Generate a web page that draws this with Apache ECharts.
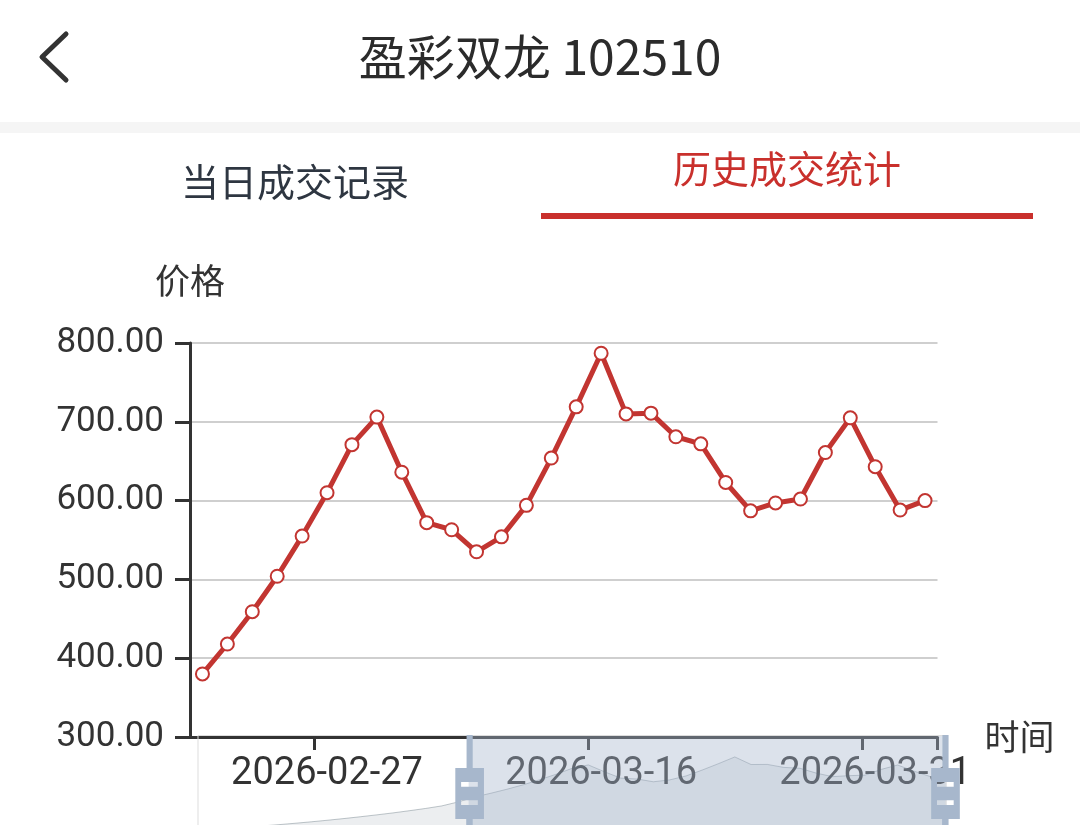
<!DOCTYPE html>
<html>
<head>
<meta charset="utf-8">
<script src="https://cdn.jsdelivr.net/npm/echarts@6/dist/echarts.min.js"></script>
<style>
html,body{margin:0;padding:0;background:#fff;}
#chart{width:1080px;height:825px;}
</style>
</head>
<body>
<div id="chart"></div>
<script>
// ---- data ----
const pageTitle = '盈彩双龙 102510';
const tabLabels = ['当日成交记录', '历史成交统计'];
const yAxisName = '价格';
const xAxisName = '时间';

// trading dates (full history, the slider window shows the last 30)
const dates = [
  '2026-01-28','2026-01-29','2026-01-30','2026-02-02','2026-02-03','2026-02-04','2026-02-05','2026-02-06',
  '2026-02-09','2026-02-10','2026-02-11','2026-02-12','2026-02-13','2026-02-16','2026-02-17','2026-02-18',
  '2026-02-19','2026-02-20','2026-02-23','2026-02-24','2026-02-25','2026-02-26','2026-02-27','2026-03-02',
  '2026-03-03','2026-03-04','2026-03-05','2026-03-06','2026-03-09','2026-03-10','2026-03-11','2026-03-12',
  '2026-03-13','2026-03-16','2026-03-17','2026-03-18','2026-03-19','2026-03-20','2026-03-23','2026-03-24',
  '2026-03-25','2026-03-26','2026-03-27','2026-03-30','2026-03-31','2026-04-01','2026-04-02'
];
// earlier prices (only visible as the slider's shadow)
const earlyPrices = [45, 54, 64, 75, 87, 100, 114, 129, 145, 162, 180, 199, 219, 241, 264, 290, 330];
// prices shown in the main plot
const shownPrices = [380, 418, 459, 504, 555, 610, 671, 706, 636, 572, 563, 535, 554, 594, 654,
                     719, 787, 710, 711, 681, 672, 623, 587, 597, 602, 661, 705, 643, 588, 600];
const prices = earlyPrices.concat(shownPrices);

const yMin = 300, yMax = 800, yStep = 100;
const windowStart = 36.2, windowEnd = 100;

// ---- chart ----
const chart = echarts.init(document.getElementById('chart'));
const CJK = '"Noto Sans CJK SC", sans-serif';
const NUM = 'Roboto, "Noto Sans CJK SC", sans-serif';
const RED = '#c9302c';

const option = {
  animation: false,
  backgroundColor: '#fff',
  textStyle: { fontFamily: NUM },
  graphic: [
    { type: 'rect', shape: { x: 0, y: 122, width: 1080, height: 11 }, style: { fill: '#f5f5f5' } },
    { type: 'polyline', shape: { points: [[66, 34], [42, 57], [66, 80]] },
      style: { stroke: '#333', lineWidth: 5, fill: null, lineCap: 'round', lineJoin: 'round' } },
    { type: 'text', x: 540, y: 57,
      style: { text: pageTitle, fontSize: 48, fontFamily: CJK, fill: '#2b2b2b', align: 'center', verticalAlign: 'middle' } },
    { type: 'text', x: 295, y: 182,
      style: { text: tabLabels[0], fontSize: 38, fontFamily: CJK, fill: '#2e3641', align: 'center', verticalAlign: 'middle' } },
    { type: 'text', x: 787, y: 169,
      style: { text: tabLabels[1], fontSize: 38, fontFamily: CJK, fill: RED, align: 'center', verticalAlign: 'middle' } },
    { type: 'rect', shape: { x: 541, y: 213, width: 492, height: 6 }, style: { fill: RED } }
  ],
  grid: { left: 190, right: 142.5, top: 343, bottom: 88 },
  xAxis: {
    type: 'category',
    data: dates,
    name: xAxisName,
    nameLocation: 'end',
    nameGap: 47,
    nameTextStyle: { fontSize: 35, color: '#333', fontFamily: CJK },
    axisLine: { lineStyle: { color: '#333', width: 3 } },
    axisTick: { show: true, interval: 10, length: 13, lineStyle: { color: '#333', width: 3 } },
    axisLabel: { interval: 10, fontSize: 38, color: '#333', margin: 18, fontFamily: NUM },
    splitLine: { show: false }
  },
  yAxis: {
    type: 'value',
    min: yMin, max: yMax, interval: yStep,
    name: yAxisName,
    nameLocation: 'end',
    nameGap: 45,
    nameTextStyle: { fontSize: 35, color: '#333', fontFamily: CJK },
    axisLine: { show: true, lineStyle: { color: '#333', width: 3 } },
    axisTick: { show: true, length: 15, lineStyle: { color: '#333', width: 3 } },
    axisLabel: { fontSize: 35, color: '#333', margin: 26, fontFamily: NUM,
                 formatter: function (v) { return v.toFixed(2); } },
    splitLine: { lineStyle: { color: '#cfcfcf', width: 2 } }
  },
  dataZoom: [{
    type: 'slider',
    xAxisIndex: 0,
    start: windowStart,
    end: windowEnd,
    left: 195, right: 136, top: 735, height: 117,
    brushSelect: false,
    moveHandleSize: 0,
    showDetail: false,
    borderColor: '#ddd',
    borderRadius: 0,
    backgroundColor: 'rgba(47,69,84,0)',
    fillerColor: 'rgba(167,183,204,0.4)',
    handleIcon: 'path://M8.2,13.6V3.9H6.3v9.7H3.1v14.9h3.3v9.7h1.8v-9.7h3.3V13.6H8.2z M9.7,24.4H4.8v-1.4h4.9V24.4z M9.7,19.1H4.8v-1.4h4.9V19.1z',
    handleSize: '100%',
    handleStyle: { color: '#a7b7cc', borderWidth: 0, borderColor: '#a7b7cc' },
    dataBackground: {
      lineStyle: { color: '#2f4554', width: 1, opacity: 0.3 },
      areaStyle: { color: 'rgba(47,69,84,0.3)', opacity: 0.3 }
    },
    selectedDataBackground: {
      lineStyle: { color: '#2f4554', width: 1, opacity: 0.3 },
      areaStyle: { color: 'rgba(47,69,84,0.3)', opacity: 0.3 }
    }
  }],
  series: [{
    type: 'line',
    data: prices,
    symbol: 'emptyCircle',
    symbolSize: 13,
    showAllSymbol: true,
    lineStyle: { color: '#c23531', width: 5 },
    itemStyle: { color: '#c23531', borderColor: '#c23531', borderWidth: 3 }
  }]
};
chart.setOption(option);
</script>
</body>
</html>
